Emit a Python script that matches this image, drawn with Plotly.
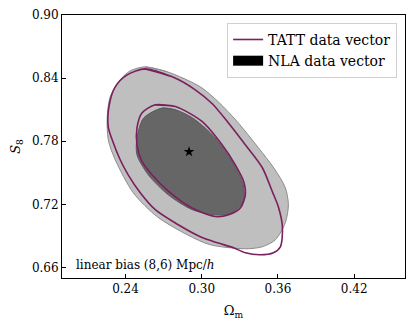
import plotly.graph_objects as go

# contour vertices (Omega_m, S8)
nla_outer_om = [0.2555, 0.2729, 0.2989, 0.3130, 0.3280, 0.3446, 0.3572, 0.3658, 0.3682, 0.3658,
                0.3580, 0.3477, 0.3343, 0.3067, 0.2886, 0.2650, 0.2461, 0.2319, 0.2264, 0.2256,
                0.2279, 0.2358, 0.2437]
nla_outer_s8 = [0.8507, 0.8460, 0.8317, 0.8175, 0.7985, 0.7738, 0.7538, 0.7358, 0.7196, 0.7025,
                0.6864, 0.6797, 0.6778, 0.6816, 0.6911, 0.7082, 0.7310, 0.7624, 0.7814, 0.8032,
                0.8222, 0.8384, 0.8469]

nla_inner_om = [0.2687, 0.2792, 0.2926, 0.3083, 0.3241, 0.3327, 0.3327, 0.3241, 0.3107, 0.2926,
                0.2736, 0.2579, 0.2490, 0.2490, 0.2542]
nla_inner_s8 = [0.8115, 0.8099, 0.8023, 0.7861, 0.7605, 0.7386, 0.7225, 0.7120, 0.7101, 0.7149,
                0.7291, 0.7481, 0.7671, 0.7830, 0.8020]

tatt_outer_om = [0.2555, 0.2768, 0.2949, 0.3083, 0.3209, 0.3343, 0.3477, 0.3556, 0.3603, 0.3635,
                 0.3619, 0.3564, 0.3461, 0.3343, 0.3249, 0.3123, 0.2989, 0.2815, 0.2634, 0.2516,
                 0.2421, 0.2358, 0.2295, 0.2264, 0.2272, 0.2319, 0.2413]
tatt_outer_s8 = [0.8488, 0.8412, 0.8289, 0.8156, 0.7975, 0.7766, 0.7548, 0.7320, 0.7177, 0.6987,
                 0.6797, 0.6740, 0.6721, 0.6740, 0.6788, 0.6835, 0.6892, 0.7006, 0.7149, 0.7310,
                 0.7481, 0.7624, 0.7814, 0.7937, 0.8146, 0.8317, 0.8431]

tatt_inner_om = [0.2634, 0.2792, 0.3002, 0.3160, 0.3264, 0.3330, 0.3343, 0.3304, 0.3212, 0.3107,
                 0.2923, 0.2739, 0.2608, 0.2529, 0.2490, 0.2490, 0.2529]
tatt_inner_s8 = [0.8146, 0.8130, 0.7988, 0.7766, 0.7576, 0.7418, 0.7291, 0.7165, 0.7101, 0.7085,
                 0.7165, 0.7323, 0.7481, 0.7608, 0.7766, 0.7925, 0.8068]

fiducial_om = [0.29]
fiducial_s8 = [0.77]

x_ticks = [0.24, 0.30, 0.36, 0.42]
y_ticks = [0.66, 0.72, 0.78, 0.84, 0.90]

purple = "#7b1f5e"
font = "DejaVu Serif"
smooth = dict(shape="spline", smoothing=0.8)


def closed(v):
    # run past the start so the spline joins up smoothly
    return v + v[:2]


fig = go.Figure()

fig.add_trace(go.Scatter(
    x=closed(nla_outer_om), y=closed(nla_outer_s8), mode="lines", fill="toself",
    fillcolor="#bfbfbf", line=dict(color="#8c8c8c", width=1, **smooth),
    showlegend=False, hoverinfo="skip",
))
fig.add_trace(go.Scatter(
    x=closed(nla_inner_om), y=closed(nla_inner_s8), mode="lines", fill="toself",
    fillcolor="#666666", line=dict(color="#5a5a5a", width=1, **smooth),
    showlegend=False, hoverinfo="skip",
))
fig.add_trace(go.Scatter(
    x=closed(tatt_outer_om), y=closed(tatt_outer_s8), mode="lines",
    line=dict(color=purple, width=1.6, **smooth),
    name="TATT data vector", hoverinfo="skip",
))
fig.add_trace(go.Scatter(
    x=closed(tatt_inner_om), y=closed(tatt_inner_s8), mode="lines",
    line=dict(color=purple, width=1.6, **smooth),
    showlegend=False, hoverinfo="skip",
))
# legend entry only
fig.add_trace(go.Scatter(
    x=[None], y=[None], mode="lines",
    line=dict(color="black", width=11), name="NLA data vector",
))
fig.add_trace(go.Scatter(
    x=fiducial_om, y=fiducial_s8, mode="markers",
    marker=dict(symbol="star", size=8, color="black"),
    showlegend=False,
))

# page body has an 8px margin, so the figure is 8px smaller than the window
fig.update_layout(
    width=407,
    height=324,
    margin=dict(l=54, r=10, t=7, b=54),
    plot_bgcolor="white",
    paper_bgcolor="white",
    font=dict(family=font, size=12, color="black"),
    xaxis=dict(
        range=[0.19, 0.46], tickvals=x_ticks, ticktext=[f"{v:.2f}" for v in x_ticks],
        showgrid=False, zeroline=False, showline=True, linecolor="black", linewidth=1,
        mirror=True, ticks="inside", ticklen=4, tickcolor="black", automargin=False,
        title=dict(text="Ω<sub>m</sub>", standoff=10, font=dict(size=13)),
    ),
    yaxis=dict(
        range=[0.65, 0.90], tickvals=y_ticks, ticktext=[f"{v:.2f}" for v in y_ticks],
        showgrid=False, zeroline=False, showline=True, linecolor="black", linewidth=1,
        mirror=True, ticks="inside", ticklen=4, tickcolor="black", automargin=False,
        title=dict(text="<i>S</i><sub>8</sub>", standoff=8, font=dict(size=13)),
    ),
    legend=dict(
        x=0.977, y=0.97, xanchor="right", yanchor="top",
        bgcolor="rgba(255,255,255,0.8)", bordercolor="#d0d0d0", borderwidth=1,
        font=dict(size=14), tracegroupgap=0, itemwidth=30,
    ),
    annotations=[dict(
        text="linear bias (8,6) Mpc/<i>h</i>", xref="paper", yref="paper",
        x=0.035, y=0.015, xanchor="left", yanchor="bottom", showarrow=False,
        font=dict(size=12),
    )],
)

fig.write_html("out.html")
